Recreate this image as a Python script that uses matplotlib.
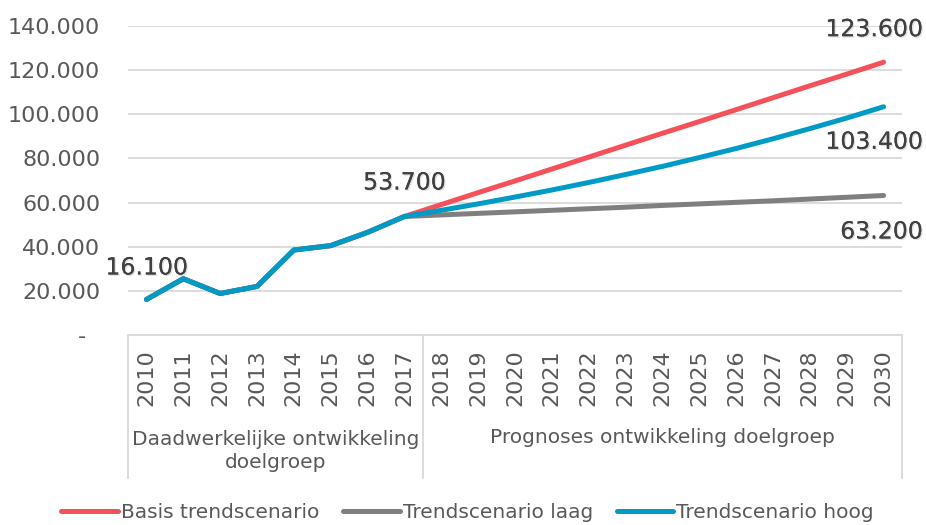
import matplotlib.pyplot as plt
import matplotlib.patheffects as pe
from matplotlib.ticker import FuncFormatter

plt.rcParams['font.family'] = ['DejaVu Sans']

years = [str(y) for y in range(2010, 2031)]
# gerealiseerd 2010-2017 (gelijk voor alle scenario's)
actual = [16100, 25500, 18800, 22000, 38500, 40500, 46500, 53700]
# prognoses 2018-2030
basis_prog = [59100, 64500, 69800, 75200, 80600, 86000, 91400, 96700,
              102100, 107500, 112900, 118200, 123600]
laag_prog = [54400, 55100, 55800, 56500, 57200, 57900, 58700, 59400,
             60100, 60800, 61600, 62400, 63200]
hoog_prog = [56500, 59400, 62500, 65700, 69100, 72700, 76400, 80400,
             84500, 88900, 93500, 98300, 103400]
groups = ['Daadwerkelijke ontwikkeling\ndoelgroep', 'Prognoses ontwikkeling doelgroep']
series_names = ['Basis trendscenario', 'Trendscenario laag', 'Trendscenario hoog']
colors = ['#F4515B', '#7F7F7F', '#009AC7']

basis = actual + basis_prog
laag = actual + laag_prog
hoog = actual + hoog_prog

fig = plt.figure(figsize=(9.26, 5.25), dpi=100)
ax = fig.add_axes([128/926, 190/525, 774/926, 309/525])

x = list(range(len(years)))
for vals, name, c in zip([basis, laag, hoog], series_names, colors):
    ax.plot(x, vals, color=c, lw=3.6, solid_capstyle='round', solid_joinstyle='round', label=name, zorder=3)

ax.set_xlim(-0.5, len(years) - 0.5)
ax.set_ylim(0, 140000)
ax.set_yticks(range(0, 140001, 20000))
ax.yaxis.set_major_formatter(FuncFormatter(
    lambda v, p: '-\u2007' if v == 0 else f'{int(v):,}'.replace(',', '.')))
ax.grid(axis='y', color='#D9D9D9', lw=1.3)
ax.set_axisbelow(True)
for s in ['top', 'right', 'left']:
    ax.spines[s].set_visible(False)
ax.spines['bottom'].set_color('#D9D9D9')
ax.spines['bottom'].set_linewidth(1.3)
ax.tick_params(axis='y', length=0, pad=20, labelsize=16, labelcolor='#595959')
ax.set_xticks(x)
ax.set_xticklabels(years, rotation=90, va='top', ha='center')
ax.tick_params(axis='x', length=0, pad=10, labelsize=16, labelcolor='#595959')

# groepsindeling onder de as
tr = ax.get_xaxis_transform()
for xv in [-0.5, 7.5, len(years) - 0.5]:
    ax.plot([xv, xv], [0, -0.463], transform=tr, color='#D9D9D9', lw=1.3, clip_on=False)
ax.text(3.5, -0.375, groups[0], transform=tr, ha='center', va='center',
        fontsize=14.5, color='#595959', linespacing=1.25)
ax.text(14, -0.333, groups[1], transform=tr, ha='center', va='center',
        fontsize=14.5, color='#595959')

# datalabels
shadow = [pe.withSimplePatchShadow(offset=(1, -1), shadow_rgbFace='#000000', alpha=0.12), pe.Normal()]
labels = [(0, actual[0], 0, 32, 'center'), (7, actual[-1], 0, 34, 'center'),
          (20, basis[-1], 39, 33, 'right'), (20, hoog[-1], 39, -35, 'right'),
          (20, laag[-1], 39, -36, 'right')]
for xi, v, dx, dy, ha in labels:
    t = ax.annotate(f'{v:,}'.replace(',', '.'), (xi, v), xytext=(dx, dy), textcoords='offset pixels',
                    ha=ha, va='center', fontsize=17, color='#404040', annotation_clip=False)
    t.set_path_effects(shadow)

fig.legend(loc='center', bbox_to_anchor=(0.505, 12/525), ncol=3, frameon=False,
           fontsize=14.5, handlelength=2.8, handletextpad=0.15, columnspacing=1.2,
           labelcolor='#595959')

fig.savefig('out.png', dpi=100)
